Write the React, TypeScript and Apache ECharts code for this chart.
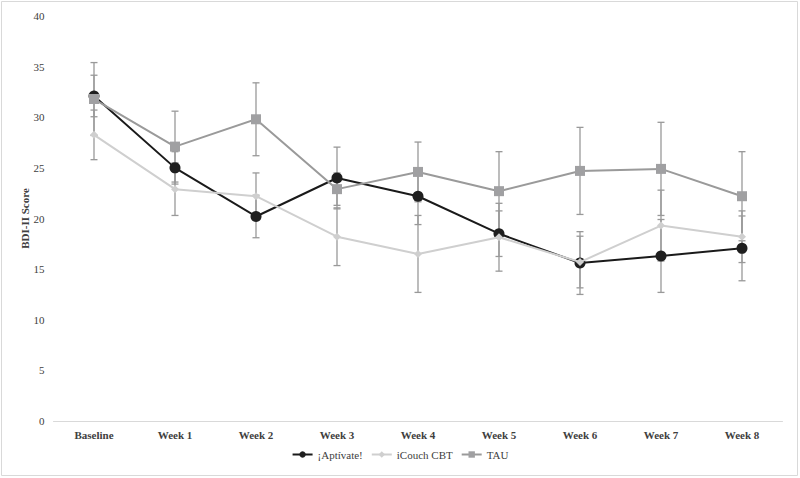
import React, { useEffect, useRef } from "react";
import * as echarts from "echarts";

const categories = ["Baseline", "Week 1", "Week 2", "Week 3", "Week 4", "Week 5", "Week 6", "Week 7", "Week 8"];
const aptivate = [32.1, 25.0, 20.2, 24.0, 22.2, 18.5, 15.6, 16.3, 17.05];
const aptivateSD = [2.05, 1.6, 2.1, 3.05, 2.8, 2.25, 3.1, 3.6, 3.2];
const icouch = [28.26, 22.9, 22.2, 18.2, 16.5, 18.15, 15.7, 19.3, 18.2];
const icouchSD = [2.45, 2.6, 2.3, 2.85, 3.8, 3.35, 2.55, 3.5, 2.55];
const tau = [31.8, 27.1, 29.8, 22.9, 24.6, 22.7, 24.7, 24.9, 22.2];
const tauSD = [3.6, 3.5, 3.6, 1.6, 2.95, 3.9, 4.3, 4.6, 4.4];
const yTicks = { min: 0, max: 40, interval: 5 };

const FONT = "'Liberation Serif', 'Times New Roman', serif";

function errData(mean: number[], sd: number[]) {
  return mean.map((m, i) => [i, m - sd[i], m + sd[i]]);
}

function errSeries(name: string, mean: number[], sd: number[]) {
  return {
    type: "custom",
    name: name + "-err",
    z: 1,
    silent: true,
    encode: { x: 0, y: [1, 2] },
    data: errData(mean, sd),
    renderItem: (params: any, api: any) => {
      const x = api.value(0);
      const lo = api.coord([x, api.value(1)]);
      const hi = api.coord([x, api.value(2)]);
      const cap = 3.5;
      const style = { stroke: "#999999", lineWidth: 1.3 };
      return {
        type: "group",
        children: [
          { type: "line", shape: { x1: lo[0], y1: lo[1], x2: hi[0], y2: hi[1] }, style },
          { type: "line", shape: { x1: lo[0] - cap, y1: lo[1], x2: lo[0] + cap, y2: lo[1] }, style },
          { type: "line", shape: { x1: hi[0] - cap, y1: hi[1], x2: hi[0] + cap, y2: hi[1] }, style },
        ],
      };
    },
  };
}

export default function App() {
  const ref = useRef<HTMLDivElement>(null);
  useEffect(() => {
    document.body.style.margin = "0";
    const chart = echarts.init(ref.current!, null, { renderer: "svg" });
    chart.setOption({
      animation: false,
      backgroundColor: "#ffffff",
      textStyle: { fontFamily: FONT },
      graphic: [
        {
          type: "rect",
          shape: { x: 1.5, y: 1.5, width: 796, height: 474 },
          style: { fill: "none", stroke: "#d9d9d9", lineWidth: 1 },
          silent: true,
        },
        {
          type: "text",
          x: 25,
          y: 218.5,
          rotation: Math.PI / 2,
          style: {
            text: "BDI-II Score",
            fontFamily: FONT,
            fontSize: 11,
            fontWeight: "bold",
            fill: "#404040",
            align: "center",
            verticalAlign: "middle",
          },
          silent: true,
        },
      ],
      grid: { left: 53.5, right: 17.5, top: 16, bottom: 57 },
      legend: {
        bottom: 13,
        left: "center",
        itemWidth: 20,
        itemHeight: 8,
        itemGap: 8,
        data: ["¡Aptívate!", "iCouch CBT", "TAU"],
        textStyle: { fontFamily: FONT, fontSize: 11, color: "#404040" },
      },
      xAxis: {
        type: "category",
        data: categories,
        axisLine: { lineStyle: { color: "#d9d9d9", width: 1 } },
        axisTick: { show: false },
        axisLabel: { fontFamily: FONT, fontSize: 11, fontWeight: "bold", color: "#404040", margin: 8 },
      },
      yAxis: {
        type: "value",
        min: yTicks.min,
        max: yTicks.max,
        interval: yTicks.interval,
        axisLine: { show: false },
        axisTick: { show: false },
        splitLine: { show: false },
        axisLabel: { fontFamily: FONT, fontSize: 11, color: "#404040", margin: 9 },
      },
      series: [
        errSeries("aptivate", aptivate, aptivateSD),
        errSeries("icouch", icouch, icouchSD),
        errSeries("tau", tau, tauSD),
        {
          type: "line",
          name: "¡Aptívate!",
          z: 3,
          data: aptivate,
          symbol: "circle",
          symbolSize: 11,
          lineStyle: { color: "#1a1a1a", width: 2 },
          itemStyle: { color: "#1f1f1f", borderWidth: 0 },
        },
        {
          type: "line",
          name: "iCouch CBT",
          z: 4,
          data: icouch,
          symbol: "diamond",
          symbolSize: 8,
          lineStyle: { color: "#cfcfcf", width: 2 },
          itemStyle: { color: "#cfcfcf", borderWidth: 0 },
        },
        {
          type: "line",
          name: "TAU",
          z: 5,
          data: tau,
          symbol: "rect",
          symbolSize: 10,
          lineStyle: { color: "#9a9a9a", width: 2 },
          itemStyle: { color: "#a0a0a2", borderWidth: 0 },
        },
      ],
    });
    return () => chart.dispose();
  }, []);
  return <div ref={ref} style={{ width: 800, height: 478 }} />;
}
